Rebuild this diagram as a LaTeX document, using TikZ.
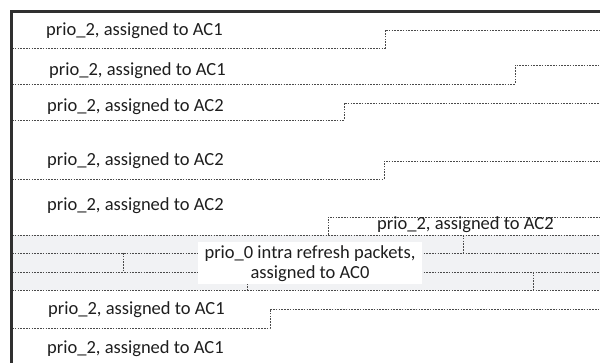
\documentclass[tikz,border=0pt]{standalone}
\usepackage{fontspec}
\setmainfont{Carlito}
\definecolor{ink}{HTML}{1E1E1E}
\definecolor{frame}{HTML}{303030}
\definecolor{slot}{HTML}{4A4A4A}
\definecolor{band}{HTML}{F1F2F4}

\begin{document}
\begin{tikzpicture}[
  x=1pt, y=-1pt,
  text=ink,
  label/.style={anchor=base west, inner sep=0pt, font=\fontsize{18.5}{19.5}\selectfont},
  border/.style={draw=frame, line width=2.2pt},
  slotline/.style={draw=slot, line width=.9pt, dash pattern=on 1.6pt off 1.2pt}
]
  \useasboundingbox (0,0) rectangle (600,363);
  % intra refresh band
  \fill[band] (12,235) rectangle (600,290);
  % prio_2 rows, each boundary steps up once
  \foreach \low/\shift/\high in {48/385/30, 84/515/65, 120/344/103, 179/384/161, 235/328/217, 328/270/309}
    \draw[slotline] (12,\low) -| (\shift,\high) -- (600,\high);
  % rows inside the band
  \draw[slotline] (12,235) -- (600,235);
  \draw[slotline] (12,253) -- (600,253);
  \draw[slotline] (12,272) -- (600,272);
  \draw[slotline] (12,290) -- (600,290);
  \draw[slotline] (123,253) -- (123,272);
  \draw[slotline] (463,235) -- (463,253);
  \draw[slotline] (247,272) -- (247,290);
  \draw[slotline] (533,272) -- (533,290);
  \node[fill=white, inner sep=0pt, minimum width=224pt, minimum height=42pt,
    align=center, font=\fontsize{18.5}{19.5}\selectfont] (refresh) at (310,263.5)
    {prio\_0 intra refresh packets,\\ assigned to AC0};
  % labels
  \node[label] (rowa) at (46,36) {prio\_2, assigned to AC1};
  \node[label] (rowb) at (49,76) {prio\_2, assigned to AC1};
  \node[label] (rowc) at (47,112) {prio\_2, assigned to AC2};
  \node[label] (rowd) at (47,166) {prio\_2, assigned to AC2};
  \node[label] (rowe) at (47,211) {prio\_2, assigned to AC2};
  \node[label] (rowf) at (377,230) {prio\_2, assigned to AC2};
  \node[label] (rowg) at (48,315) {prio\_2, assigned to AC1};
  \node[label] (rowh) at (47,354) {prio\_2, assigned to AC1};
  % frame
  \draw[border] (11.5,363) -- (11.5,11.5) -- (600,11.5);
\end{tikzpicture}
\end{document}
